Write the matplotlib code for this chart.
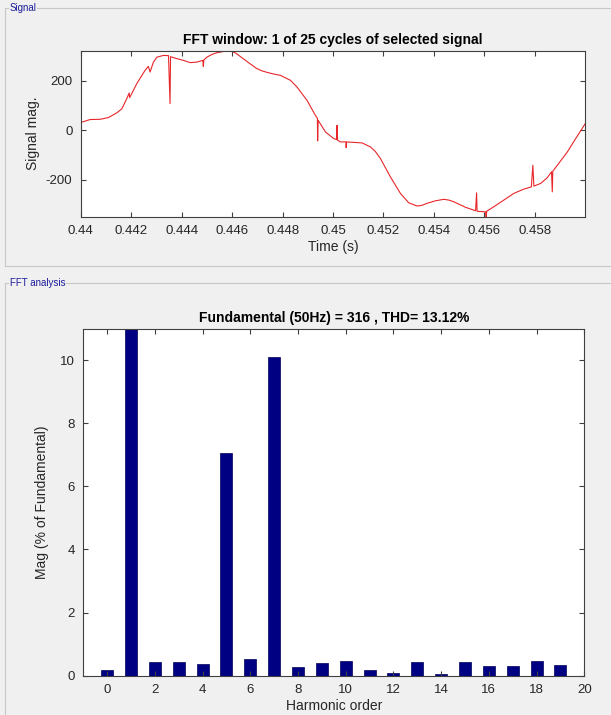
import numpy as np
import matplotlib
matplotlib.use("Agg")
import matplotlib.pyplot as plt
from matplotlib.lines import Line2D

plt.rcParams["font.family"] = ["Liberation Sans", "DejaVu Sans"]
plt.rcParams["axes.unicode_minus"] = False

# signal trace (time in s, magnitude)
sig_t = [0.44, 0.44037, 0.44077, 0.4411, 0.44143, 0.44163, 0.44183, 0.44192, 0.44194,
         0.44222, 0.44255, 0.44268, 0.44275, 0.44288, 0.44302, 0.44328, 0.44348,
         0.44354, 0.44356, 0.44374, 0.44407, 0.44434, 0.4446, 0.44484, 0.44486, 0.44488,
         0.445, 0.4452, 0.4454, 0.44573, 0.44599, 0.44615, 0.44632, 0.44648, 0.44665,
         0.44698, 0.44718, 0.44738, 0.44765,
         0.44791, 0.44831, 0.44857, 0.44897, 0.4493, 0.44938, 0.44939, 0.44941,
         0.4497, 0.45002, 0.45014, 0.45016, 0.45018, 0.45029, 0.45051, 0.45052,
         0.45054, 0.45082, 0.45115, 0.45148, 0.45168, 0.45188, 0.45227, 0.45267, 0.453,
         0.45333, 0.45353, 0.45373, 0.45406, 0.45439, 0.45459, 0.45479, 0.45525, 0.45565,
         0.45569, 0.45571, 0.45598, 0.45605, 0.45607, 0.45609, 0.45637, 0.45677, 0.45717,
         0.45756, 0.45786, 0.45792, 0.45796, 0.45823, 0.45849, 0.45866, 0.45869,
         0.45871, 0.45889, 0.45929, 0.45962, 0.46]
sig_v = [31, 43, 44, 51, 70, 86, 128, 150, 131,
         187, 241, 257, 234, 274, 294, 301, 300,
         107, 296, 290, 281, 272, 274, 281, 257, 283,
         294, 305, 312, 318, 318, 310, 297, 285, 272,
         248, 239, 233, 226,
         221, 201, 174, 120, 60, 48, -43, 40,
         -7, -33, -38, 20, -40, -47, -47, -70,
         -47, -49, -51, -67, -86, -114, -187, -254, -292,
         -305, -302, -294, -284, -278, -281, -288, -310, -324,
         -252, -326, -328, -328, -351, -326, -308, -281, -254,
         -237, -228, -141, -225, -214, -191, -167, -248,
         -165, -141, -87, -33, 27]

# harmonic spectrum (% of fundamental)
harm_order = list(range(20))
harm_mag = [0.17, 100.0, 0.42, 0.42, 0.37, 7.07, 0.53, 10.10, 0.27, 0.39,
            0.48, 0.17, 0.10, 0.42, 0.06, 0.42, 0.30, 0.32, 0.45, 0.35]

BG = "#f0f0f0"
AX_COLOR = "#404040"
TXT = "#262626"

fig = plt.figure(figsize=(6.11, 7.15), dpi=100)
fig.patch.set_facecolor(BG)


def style_axis(ax):
    for s in ax.spines.values():
        s.set_color(AX_COLOR)
        s.set_linewidth(0.8)
    ax.tick_params(direction="in", length=3.6, width=0.8, color=AX_COLOR,
                   top=True, right=True, labelsize=9.5, labelcolor=TXT, pad=6)


def group_box(y_top, y_bot, label, gap_end):
    # panel frame in pixel coords, converted to figure fraction
    W, H = 611.0, 715.0
    x0, x1 = 5 / W, 610 / W
    yt, yb = 1 - y_top / H, 1 - y_bot / H
    c = "#c8c8c8"
    fig.add_artist(Line2D([x0, x0], [yb, yt], color=c, lw=0.8))
    fig.add_artist(Line2D([x0, 8 / W], [yt, yt], color=c, lw=0.8))
    fig.add_artist(Line2D([gap_end / W, x1], [yt, yt], color=c, lw=0.8))
    if y_bot < H:
        fig.add_artist(Line2D([x0, x1], [yb, yb], color=c, lw=0.8))
    fig.text(10 / W, yt, label, fontsize=7, color="#1c1c9c", va="center", ha="left")


group_box(8, 266, "Signal", 37)
group_box(283, 716, "FFT analysis", 66)

# top: signal window
ax1 = fig.add_axes([0.1321, 0.6969, 0.8259, 0.2322])
ax1.plot(sig_t, sig_v, color="#e8262a", lw=0.8)
ax1.set_xlim(0.44, 0.46)
ax1.set_ylim(-348, 320)
ax1.set_xticks([0.44, 0.442, 0.444, 0.446, 0.448, 0.45, 0.452, 0.454, 0.456, 0.458])
ax1.set_xticklabels(["0.44", "0.442", "0.444", "0.446", "0.448", "0.45", "0.452",
                     "0.454", "0.456", "0.458"])
ax1.set_yticks([-200, 0, 200])
style_axis(ax1)
ax1.set_title("FFT window: 1 of 25 cycles of selected signal", fontsize=10,
              fontweight="bold", color="black", pad=5)
ax1.set_xlabel("Time (s)", fontsize=10, color=TXT, labelpad=2)
ax1.set_ylabel("Signal mag.", fontsize=10, color=TXT, labelpad=4)

# bottom: harmonic bars
ax2 = fig.add_axes([0.1363, 0.055, 0.82, 0.4853])
ax2.bar(harm_order, harm_mag, width=0.5, color="#000083", edgecolor="#00005a", lw=0.5)
ax2.set_xlim(-1, 20)
ax2.set_ylim(0, 11)
ax2.set_xticks(range(0, 21, 2))
ax2.set_yticks(range(0, 11, 2))
style_axis(ax2)
ax2.set_title("Fundamental (50Hz) = 316 , THD= 13.12%", fontsize=10,
              fontweight="bold", color="black", pad=5)
ax2.set_xlabel("Harmonic order", fontsize=10, color=TXT, labelpad=2)
ax2.set_ylabel("Mag (% of Fundamental)", fontsize=10, color=TXT, labelpad=8)

fig.savefig("out.png", dpi=100, facecolor=BG)
